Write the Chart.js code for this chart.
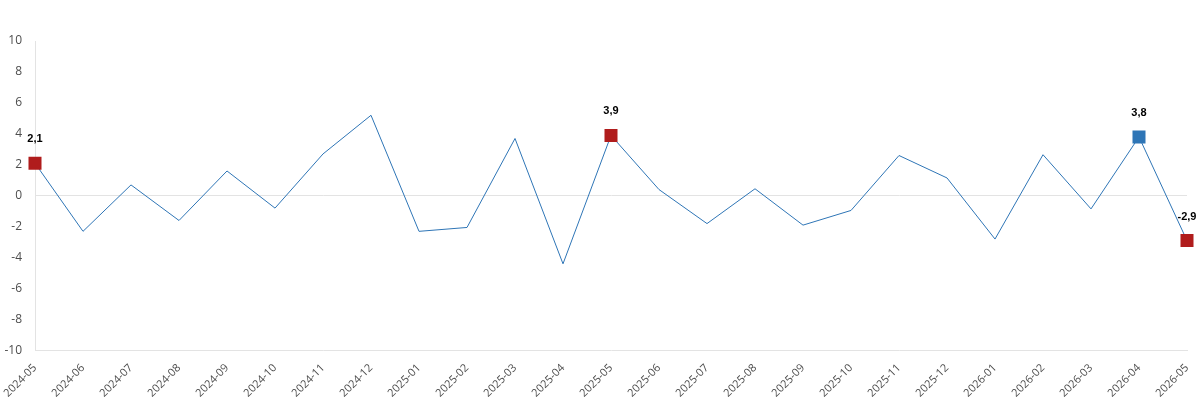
<!DOCTYPE html>
<html>
<head>
<meta charset="utf-8">
<script src="https://cdn.jsdelivr.net/npm/chart.js@4.4.1/dist/chart.umd.min.js"></script>
<style>
  html, body { margin: 0; padding: 0; background: #fff; }
  #wrap { width: 1200px; height: 403px; }
</style>
</head>
<body>
<div id="wrap"><canvas id="grafico"></canvas></div>
<script>
// DATOS
const meses = ['2024-05','2024-06','2024-07','2024-08','2024-09','2024-10','2024-11','2024-12',
  '2025-01','2025-02','2025-03','2025-04','2025-05','2025-06','2025-07','2025-08','2025-09',
  '2025-10','2025-11','2025-12','2026-01','2026-02','2026-03','2026-04','2026-05'];
const valores = [2.1, -2.3, 0.7, -1.6, 1.6, -0.8, 2.7, 5.2, -2.3, -2.05, 3.7, -4.4, 3.9,
  0.4, -1.8, 0.45, -1.9, -0.95, 2.6, 1.15, -2.8, 2.65, -0.85, 3.8, -2.9];
const marcados = [0, 12, 23, 24];
const marcadoAzul = 23;
const ticksY = [-10, -8, -6, -4, -2, 0, 2, 4, 6, 8, 10];
// DATOS END

const azul = '#2E75B6';
const rojo = '#B01C1C';

const radios = valores.map((v, i) => marcados.includes(i) ? 9.2 : 0);
const colores = valores.map((v, i) => i === marcadoAzul ? azul : rojo);

// etiquetas sobre los puntos marcados
const etiquetas = {
  id: 'etiquetas',
  afterDatasetsDraw(chart) {
    const ctx = chart.ctx;
    const meta = chart.getDatasetMeta(0);
    ctx.save();
    ctx.font = 'bold 11px "Liberation Sans", Arial, sans-serif';
    ctx.fillStyle = '#000';
    ctx.textAlign = 'center';
    ctx.textBaseline = 'middle';
    marcados.forEach(i => {
      const p = meta.data[i];
      const txt = valores[i].toFixed(1).replace('.', ',');
      ctx.fillText(txt, p.x, p.y - 24);
    });
    ctx.restore();
  }
};

const config = {
  type: 'line',
  data: {
    labels: meses,
    datasets: [{
      data: valores,
      borderColor: azul,
      borderWidth: 1,
      tension: 0,
      fill: false,
      pointStyle: 'rect',
      pointRadius: radios,
      pointHoverRadius: radios,
      pointBackgroundColor: colores,
      pointBorderColor: colores,
      pointBorderWidth: 0
    }]
  },
  options: {
    responsive: true,
    maintainAspectRatio: false,
    animation: false,
    layout: { padding: { top: 41, right: 13, left: 0, bottom: 0 } },
    plugins: { legend: { display: false }, tooltip: { enabled: false } },
    scales: {
      x: {
        offset: false,
        grid: { display: false },
        border: { display: true, color: '#E3E3E3', width: 1 },
        ticks: {
          minRotation: 45,
          maxRotation: 45,
          autoSkip: false,
          color: '#4D4D4D',
          padding: 3,
          font: { family: '"Open Sans", sans-serif', size: 11 }
        }
      },
      y: {
        min: -10,
        max: 10,
        afterBuildTicks: axis => { axis.ticks = ticksY.map(v => ({ value: v })); },
        afterFit: axis => { axis.width = 35; },
        grid: {
          drawTicks: false,
          color: c => c.tick && c.tick.value === 0 ? '#E3E3E3' : 'rgba(0,0,0,0)'
        },
        border: { display: true, color: '#E3E3E3', width: 1 },
        ticks: {
          color: '#4D4D4D',
          padding: 13,
          font: { family: '"Open Sans", sans-serif', size: 12 }
        }
      }
    }
  },
  plugins: [etiquetas]
};
new Chart(document.getElementById('grafico'), config);
</script>
</body>
</html>
